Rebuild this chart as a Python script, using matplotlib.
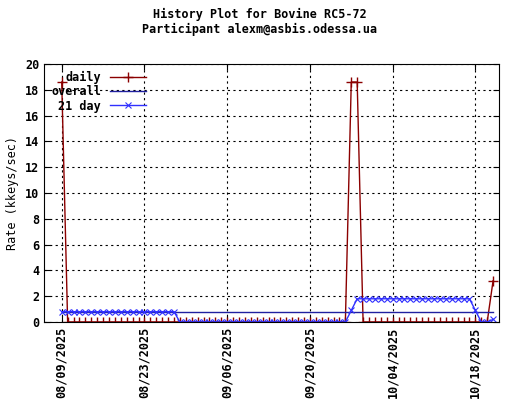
import datetime as dt

import matplotlib
matplotlib.use("Agg")
import matplotlib.pyplot as plt
import matplotlib.dates as mdates

START = dt.date(2025, 8, 9)

# one value per day, 08/09/2025 .. 10/21/2025
daily = ([18.6] + [0.0] * 47          # 08/09 .. 09/25
         + [0.0, 18.6, 18.6, 0.0]       # 09/26 .. 09/29
         + [0.0] * 21                   # 09/30 .. 10/20
         + [3.2])                       # 10/21
overall = [0.75] * 74
day21 = ([0.8] * 20                     # 08/09 .. 08/28
         + [0.0] * 28                   # 08/29 .. 09/25
         + [0.0, 0.9]                   # 09/26 .. 09/27
         + [1.8] * 20                   # 09/28 .. 10/17
         + [0.9, 0.0, 0.0, 0.2])        # 10/18 .. 10/21
tick_dates = ["2025-08-09", "2025-08-23", "2025-09-06", "2025-09-20",
              "2025-10-04", "2025-10-18"]

days = [START + dt.timedelta(days=i) for i in range(len(daily))]

plt.rcParams["font.family"] = ["DejaVu Sans Mono"]
plt.rcParams["font.weight"] = "bold"
plt.rcParams["font.size"] = 8.5

fig = plt.figure(figsize=(5.2, 4.0), dpi=100)
ax = fig.add_axes([44 / 520, 1 - 322 / 400, (499 - 44) / 520, (322 - 64) / 400])

ax.plot(days, daily, color="#8b0000", lw=1, marker="+", ms=7, mew=1, label="daily")
ax.plot(days, overall, color="#2020a0", lw=1, label="overall")
ax.plot(days, day21, color="#3030ff", lw=1, marker="x", ms=5, mew=0.8, label="21 day")

ax.set_xlim(dt.date(2025, 8, 6), dt.date(2025, 10, 22))
ax.set_ylim(0, 20)
ax.set_yticks(range(0, 21, 2))
ax.set_xticks([dt.date.fromisoformat(d) for d in tick_dates])
ax.xaxis.set_major_formatter(mdates.DateFormatter("%m/%d/%Y"))
plt.setp(ax.get_xticklabels(), rotation=90)
ax.tick_params(direction="in", top=True, right=True, length=4)
ax.grid(True, color="black", linestyle=(0, (2, 3)), lw=0.8)
ax.set_ylabel("Rate (kkeys/sec)")

leg = ax.legend(loc="upper left", markerfirst=False, frameon=False,
                handlelength=3, borderaxespad=0.2, labelspacing=0.1,
                bbox_to_anchor=(0.0, 1.0))
for t in leg.get_texts():
    t.set_ha("right")

fig.text(0.5, 1 - 22 / 400, "History Plot for Bovine RC5-72\nParticipant alexm@asbis.odessa.ua",
         ha="center", va="center", linespacing=1.1)

fig.savefig("out.png", dpi=100)
